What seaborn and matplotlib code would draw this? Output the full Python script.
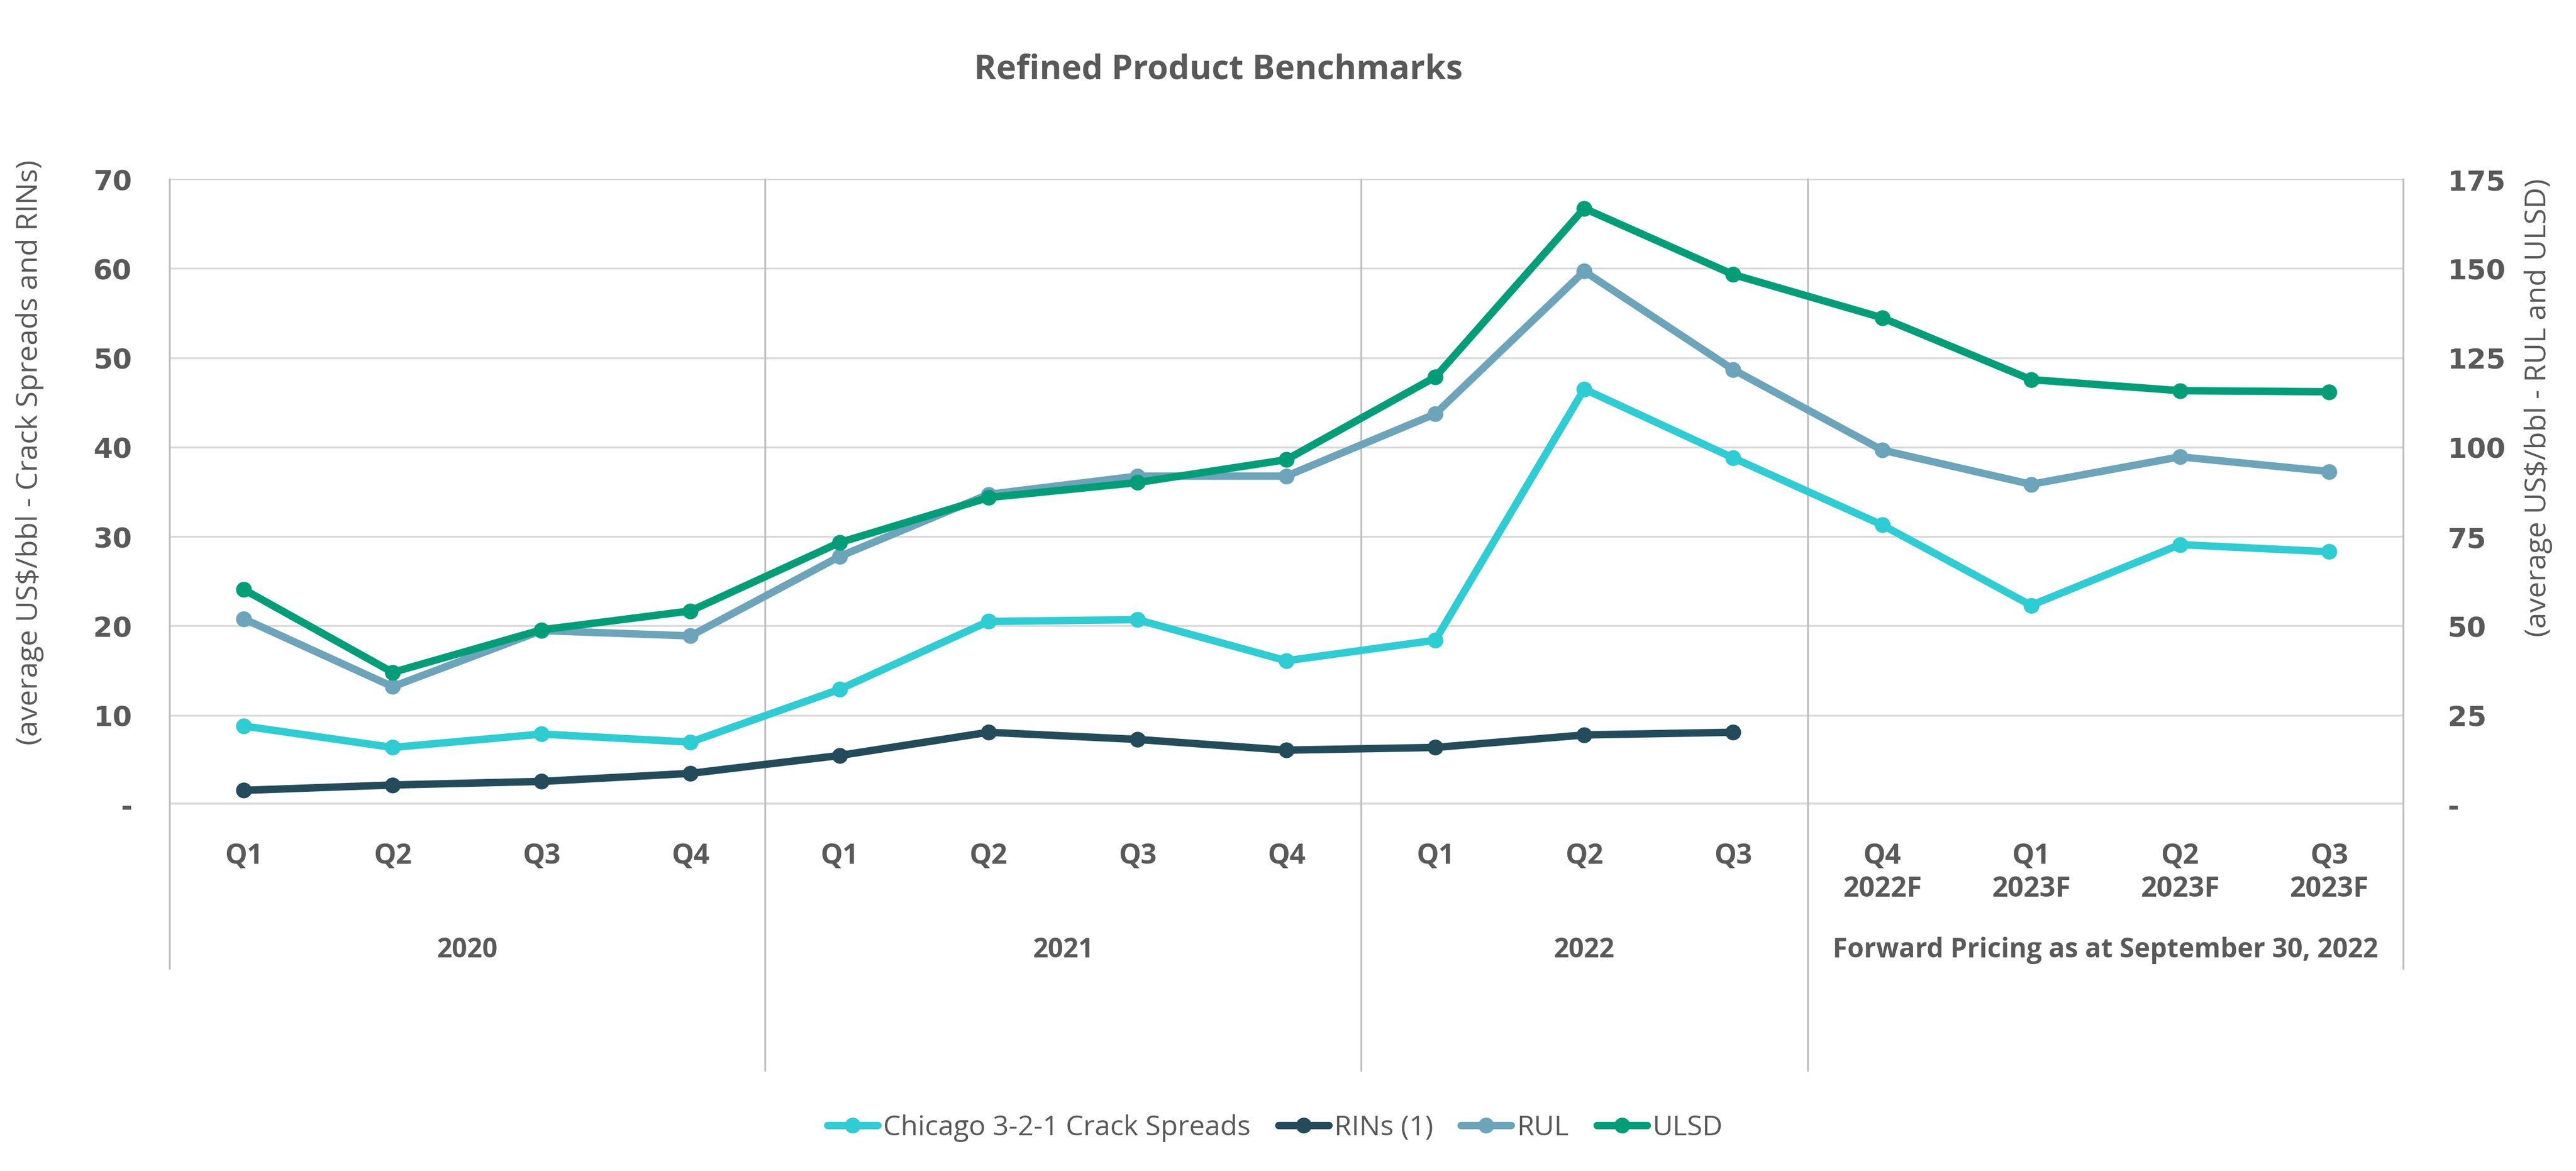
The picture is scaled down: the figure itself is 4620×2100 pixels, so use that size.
import numpy as np
import pandas as pd
import seaborn as sns
import matplotlib.pyplot as plt
from matplotlib.lines import Line2D

# Quarter labels and group labels
quarters = ['Q1', 'Q2', 'Q3', 'Q4', 'Q1', 'Q2', 'Q3', 'Q4', 'Q1', 'Q2', 'Q3',
            'Q4\n2022F', 'Q1\n2023F', 'Q2\n2023F', 'Q3\n2023F']
groups = ['2020', '2021', '2022', 'Forward Pricing as at September 30, 2022']
group_sizes = [4, 4, 3, 4]

# Left axis series (US$/bbl)
chicago = [8.8, 6.4, 7.9, 7.0, 12.9, 20.5, 20.7, 16.1, 18.4, 46.5, 38.8, 31.3, 22.3, 29.1, 28.3]
rins = [1.6, 2.2, 2.6, 3.5, 5.5, 8.1, 7.3, 6.1, 6.4, 7.8, 8.1]

# Right axis series (US$/bbl)
rul = [52.0, 33.0, 48.7, 47.2, 69.4, 86.8, 91.9, 91.9, 109.3, 149.2, 121.7, 99.2, 89.6, 97.3, 93.2]
ulsd = [60.2, 37.0, 48.9, 54.2, 73.3, 85.9, 90.1, 96.5, 119.6, 166.8, 148.3, 136.2, 118.9, 115.8, 115.5]

c_chicago = '#2ECCD3'
c_rins = '#244B5A'
c_rul = '#6CA4BA'
c_ulsd = '#009E78'
txt = '#595959'
grid = '#D9D9D9'

sns.set_theme(style='white')
plt.rcParams['font.family'] = ['DejaVu Sans']
sans = ['Open Sans', 'DejaVu Sans']

pos = np.arange(len(quarters))
left_df = pd.DataFrame({
    'x': np.concatenate([pos, pos[:len(rins)]]),
    'v': chicago + rins,
    's': ['Chicago 3-2-1 Crack Spreads'] * len(chicago) + ['RINs (1)'] * len(rins),
})
right_df = pd.DataFrame({
    'x': np.concatenate([pos, pos]),
    'v': rul + ulsd,
    's': ['RUL'] * len(rul) + ['ULSD'] * len(ulsd),
})

fig = plt.figure(figsize=(15.4, 7.0033), dpi=300)
ax = fig.add_axes([0.0657, 0.3127, 0.8673, 0.534])
ax2 = ax.twinx()

lw = 3.2
ms = 6.8
sns.lineplot(data=left_df, x='x', y='v', hue='s', palette=[c_chicago, c_rins],
             marker='o', markersize=ms, markeredgewidth=0, linewidth=lw,
             legend=False, ax=ax, zorder=3)
sns.lineplot(data=right_df, x='x', y='v', hue='s', palette=[c_rul, c_ulsd],
             marker='o', markersize=ms, markeredgewidth=0, linewidth=lw,
             legend=False, ax=ax2, zorder=3)

ax.set_xlim(-0.5, len(quarters) - 0.5)
ax.set_ylim(0, 70)
ax2.set_ylim(0, 175)
ax.set_yticks(range(0, 71, 10))
ax.set_yticklabels(['-'] + [str(v) for v in range(10, 71, 10)])
ax2.set_yticks(range(0, 176, 25))
ax2.set_yticklabels(['-'] + [str(v) for v in range(25, 176, 25)])

for a in (ax, ax2):
    for s in a.spines.values():
        s.set_visible(False)
    a.set_xlabel('')
    a.set_ylabel('')
    a.tick_params(axis='y', length=0, labelsize=12, labelcolor=txt)
    for t in a.get_yticklabels():
        t.set_fontweight('bold')
ax.tick_params(axis='y', pad=16)
ax2.tick_params(axis='y', pad=19)

# gridlines
for v in range(10, 71, 10):
    ax.axhline(v, color=grid, linewidth=0.8, zorder=1)
ax.axhline(0, color=grid, linewidth=1.8, zorder=1)

# category labels
ax.set_xticks(pos)
ax.set_xticklabels(quarters, fontsize=12, fontweight='bold', color=txt,
                   family=sans, linespacing=1.25, va='top')
ax.tick_params(axis='x', length=0, pad=16)

# group separators
tr = ax.get_xaxis_transform()
bounds = np.concatenate([[0], np.cumsum(group_sizes)]) - 0.5
for i, b in enumerate(bounds):
    bottom = -0.262 if i in (0, len(bounds) - 1) else -0.425
    ax.plot([b, b], [1, bottom], transform=tr, color='#BFBFBF',
            linewidth=0.8, clip_on=False, zorder=2)
for i, g in enumerate(groups):
    mid = (bounds[i] + bounds[i + 1]) / 2
    ax.text(mid, -0.232, g, transform=tr, ha='center', va='center',
            fontsize=11.5, fontweight='bold', color=txt, family=sans)

fig.text(0.473, 0.94, 'Refined Product Benchmarks', ha='center', va='center',
         fontsize=14.5, fontweight='bold', color=txt, family=sans)
fig.text(0.0115, 0.614, '(average US$/bbl - Crack Spreads and RINs)', rotation=90,
         ha='center', va='center', fontsize=12.5, color=txt, family=sans)
fig.text(0.9853, 0.652, '(average US$/bbl - RUL and ULSD)', rotation=90,
         ha='center', va='center', fontsize=12.5, color=txt, family=sans)

handles = [Line2D([], [], color=c, marker='o', markersize=ms, markeredgewidth=0, linewidth=lw)
           for c in (c_chicago, c_rins, c_rul, c_ulsd)]
labels = ['Chicago 3-2-1 Crack Spreads', 'RINs (1)', 'RUL', 'ULSD']
leg = fig.legend(handles, labels, loc='center', bbox_to_anchor=(0.495, 0.037), ncol=4,
                 frameon=False, handlelength=1.8, handletextpad=0.2,
                 columnspacing=1.0, prop={'family': sans, 'size': 12})
for t in leg.get_texts():
    t.set_color(txt)

fig.savefig('out.png', dpi=300, facecolor='white')
